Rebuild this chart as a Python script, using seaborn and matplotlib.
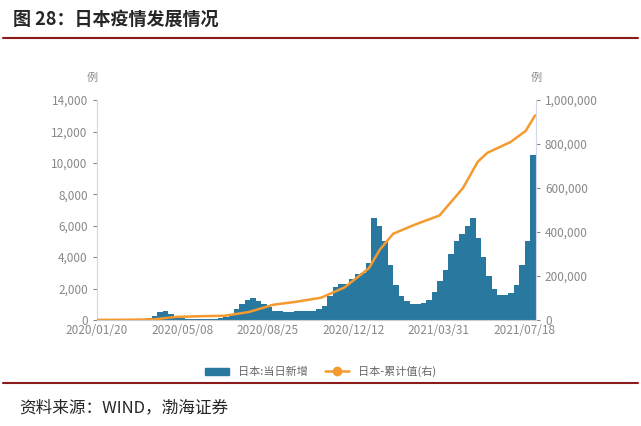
import numpy as np
import pandas as pd
import matplotlib.pyplot as plt
from matplotlib.lines import Line2D
from matplotlib.patches import Patch
import seaborn as sns

sns.set_style("white")
plt.rcParams["font.family"] = ["Noto Sans CJK SC", "DejaVu Sans"]

# weekly typical daily new cases, weeks starting 2020-01-20
daily_new = [
    5, 10, 15, 15, 20, 30, 40, 40, 50, 100,
    250, 500, 550, 400, 200, 100, 50, 30, 30, 40,
    50, 60, 100, 200, 400, 700, 1000, 1300, 1400, 1200,
    1000, 800, 600, 550, 500, 500, 550, 550, 600, 600,
    700, 900, 1500, 2100, 2300, 2300, 2600, 2900, 3000, 3600,
    6500, 6000, 5000, 3500, 2200, 1500, 1200, 1000, 1000, 1100,
    1300, 1800, 2500, 3200, 4200, 5000, 5500, 6000, 6500, 5200,
    4000, 2800, 2000, 1600, 1600, 1700, 2200, 3500, 5000, 10500,
]
cum_dates = ["2020-01-20", "2020-03-01", "2020-04-01", "2020-05-01", "2020-06-01",
             "2020-07-01", "2020-08-01", "2020-09-01", "2020-10-01", "2020-11-01",
             "2020-12-01", "2021-01-01", "2021-01-15", "2021-02-01", "2021-03-01",
             "2021-04-01", "2021-05-01", "2021-05-20", "2021-06-01", "2021-07-01",
             "2021-07-20", "2021-08-01"]
cum_total = [0, 1000, 2500, 14000, 17000, 19000, 36000, 69000, 83000, 101000,
             148000, 235000, 320000, 392000, 434000, 475000, 600000, 720000, 760000, 810000,
             860000, 930000]
x_ticks = ["2020/01/20", "2020/05/08", "2020/08/25", "2020/12/12", "2021/03/31", "2021/07/18"]

bars = pd.DataFrame({"date": pd.date_range("2020-01-20", periods=len(daily_new), freq="7D"),
                     "new": daily_new})
cum = pd.DataFrame({"date": pd.to_datetime(cum_dates), "total": cum_total})

fig = plt.figure(figsize=(6.41, 4.26), dpi=100)
ax = fig.add_axes([0.151, 0.249, 0.685, 0.516])
bar_color = "#2878a0"
ax.bar(bars["date"], bars["new"], width=7, align="edge", color=bar_color, linewidth=0)
ax.set_ylim(0, 14000)
ax.set_yticks(range(0, 14001, 2000))
ax.set_yticklabels([f"{v:,}" for v in range(0, 14001, 2000)])
ax.set_xlim(pd.Timestamp("2020-01-20"), pd.Timestamp("2021-08-02"))
ax.set_xticks(pd.to_datetime(x_ticks))
ax.set_xticklabels(x_ticks)

ax2 = ax.twinx()
sns.lineplot(data=cum, x="date", y="total", ax=ax2, color="#f59a2f", linewidth=1.8)
ax2.set_ylim(0, 1000000)
ax2.set_yticks(range(0, 1000001, 200000))
ax2.set_yticklabels([f"{v:,}" for v in range(0, 1000001, 200000)])
ax2.set_xlabel("")
ax2.set_ylabel("")

for a in (ax, ax2):
    for s in a.spines.values():
        s.set_visible(False)
    a.tick_params(labelsize=8.5, colors="#888888", length=3)
ax.spines["left"].set_visible(True)
ax.spines["left"].set_color("#d0d8ea")
ax2.spines["right"].set_visible(True)
ax2.spines["right"].set_color("#d0d8ea")
ax.spines["bottom"].set_visible(True)
ax.spines["bottom"].set_color("#cccccc")
ax.tick_params(axis="x", length=0, pad=3)

fig.text(0.135, 0.81, "例", fontsize=8, color="#888888")
fig.text(0.828, 0.81, "例", fontsize=8, color="#888888")

handles = [Patch(color=bar_color),
           Line2D([0], [0], color="#f59a2f", marker="o", markersize=6, linewidth=1.8)]
fig.legend(handles, ["日本:当日新增", "日本-累计值(右)"], loc="center", bbox_to_anchor=(0.5, 0.127),
           ncol=2, frameon=False, fontsize=8, labelcolor="#666666", handlelength=2.2, columnspacing=1.5)

fig.text(0.02, 0.955, "图 28：日本疫情发展情况", fontsize=13, fontweight="bold", va="center")
fig.add_artist(Line2D([0.005, 0.995], [0.91, 0.91], color="#8b1a1a", linewidth=1.5))
fig.add_artist(Line2D([0.005, 0.995], [0.10, 0.10], color="#8b1a1a", linewidth=1.5))
fig.text(0.03, 0.042, "资料来源：WIND，渤海证券", fontsize=12, style="italic", va="center")

fig.savefig("out.png", dpi=100)
